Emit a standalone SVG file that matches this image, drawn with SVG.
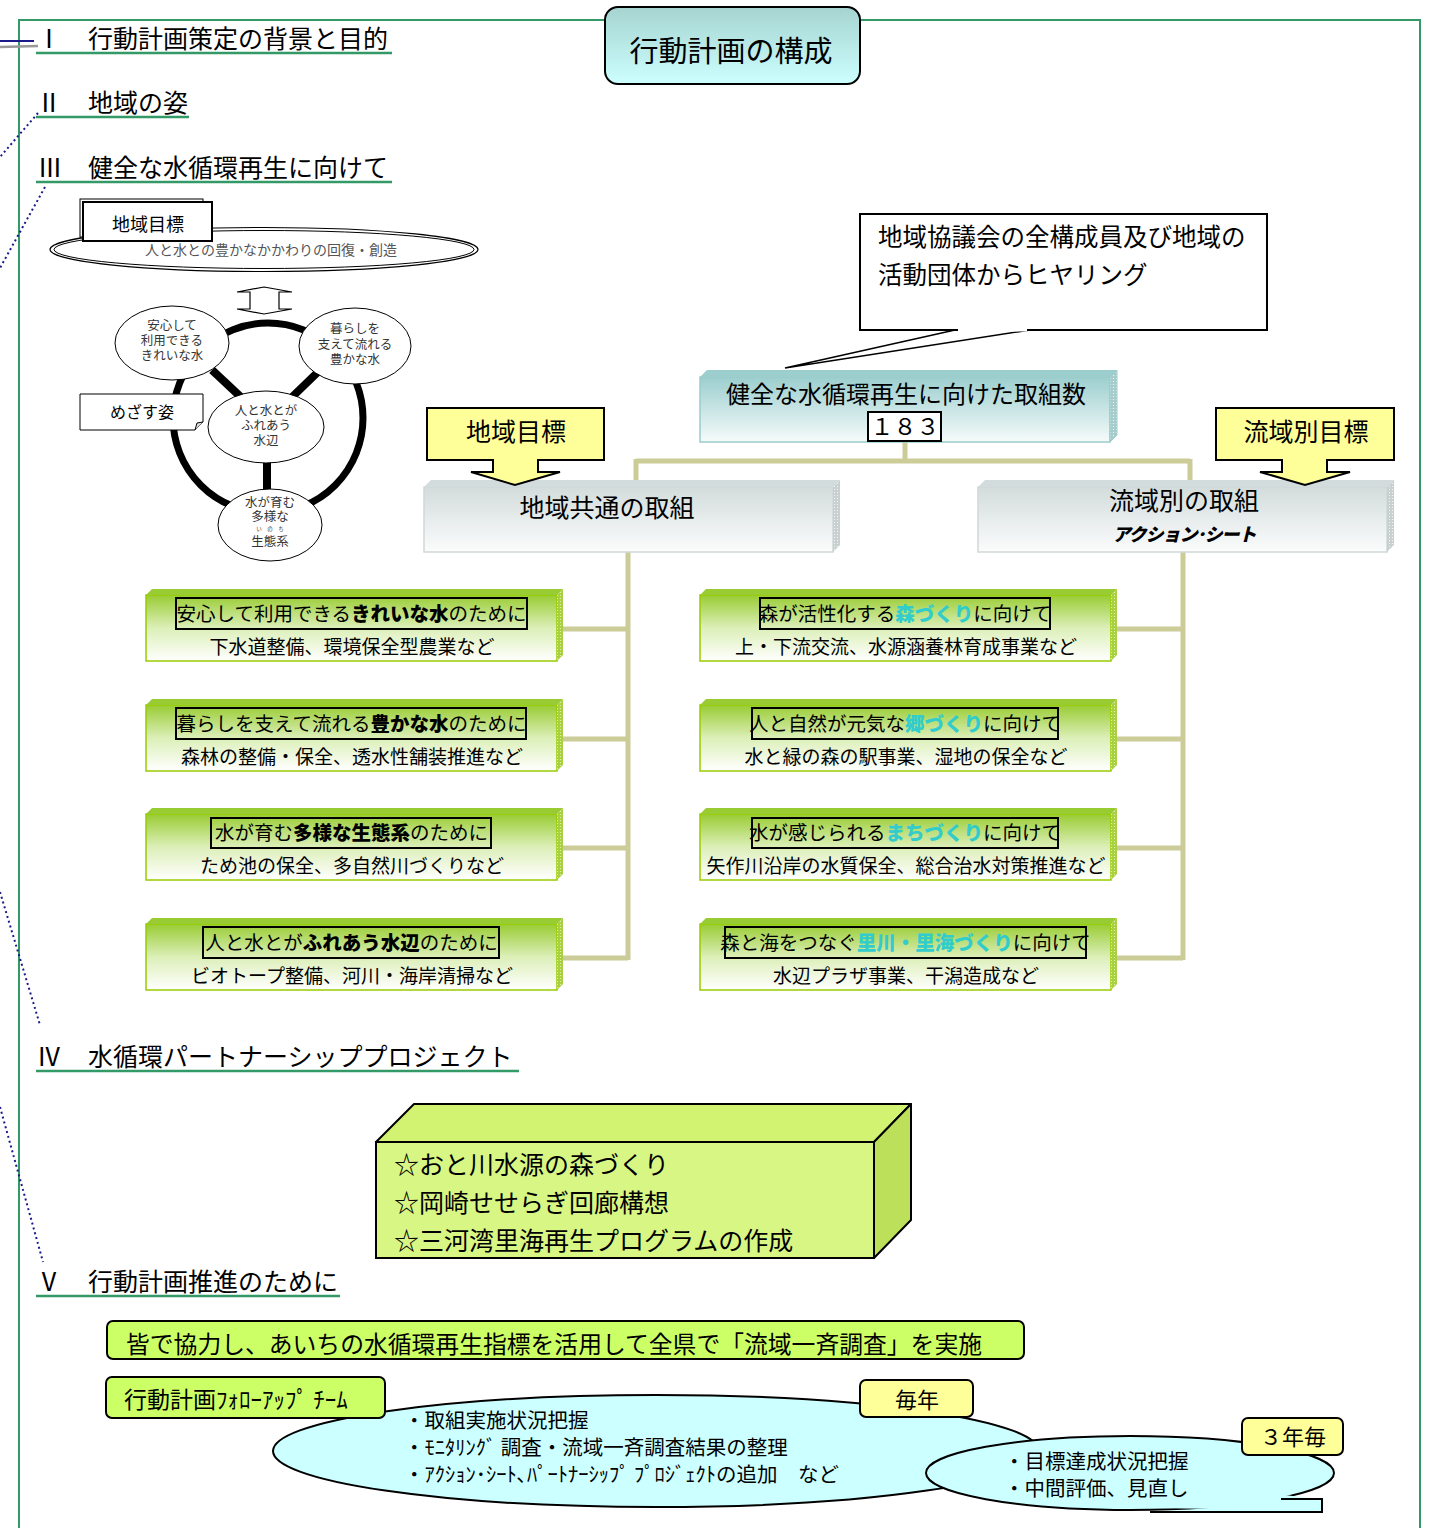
<svg xmlns="http://www.w3.org/2000/svg" width="1431" height="1528" viewBox="0 0 1431 1528">
<style>
text{font-family:"Noto Sans CJK JP","Noto Sans CJK SC",sans-serif;fill:#000}
.h{font-size:25px}
.ul{stroke:#339966;stroke-width:2.5}
.dot{stroke:#1a1a8c;stroke-width:2;stroke-dasharray:2 3;fill:none}
.conn{stroke:#cccc99;stroke-width:5;fill:none}
.el{font-size:12.5px;fill:#333;text-anchor:middle}
.gt{font-size:19.5px;text-anchor:middle}
.gs{font-size:19px;text-anchor:middle}
.b{font-weight:900}
.cy{font-weight:900;fill:#33cccc}
.tr{fill:none;stroke:#000;stroke-width:2}
.yb{fill:#ffff99;stroke:#000;stroke-width:2}
.lg{fill:#ccff66;stroke:#000;stroke-width:2}
</style>
<defs>
<linearGradient id="gGreen" x1="0" y1="0" x2="0" y2="1"><stop offset="0" stop-color="#99cc33"/><stop offset="0.5" stop-color="#dcefb8"/><stop offset="1" stop-color="#ffffff"/></linearGradient>
<linearGradient id="gGrey" x1="0" y1="0" x2="0" y2="1"><stop offset="0" stop-color="#d3dcdc"/><stop offset="1" stop-color="#fbfcfc"/></linearGradient>
<linearGradient id="gTeal" x1="0" y1="0" x2="0" y2="1"><stop offset="0" stop-color="#9ccece"/><stop offset="1" stop-color="#f6fbfb"/></linearGradient>
<linearGradient id="gTitle" x1="0" y1="0" x2="0" y2="1"><stop offset="0" stop-color="#a6d4d0"/><stop offset="1" stop-color="#ccffff"/></linearGradient>
<pattern id="pGreen" width="3" height="3" patternUnits="userSpaceOnUse"><rect width="3" height="3" fill="#a8d040"/><rect width="1" height="1" fill="#e0f0b0"/></pattern>
<pattern id="pGrey" width="3" height="3" patternUnits="userSpaceOnUse"><rect width="3" height="3" fill="#c8d0d0"/><rect width="1" height="1" fill="#f4f4f4"/></pattern>
<pattern id="pTeal" width="3" height="3" patternUnits="userSpaceOnUse"><rect width="3" height="3" fill="#a8cccc"/><rect width="1" height="1" fill="#eef8f8"/></pattern>
</defs>

<!-- frame -->
<path d="M605,20 H19 V1528 M860,20 H1420 V1528" stroke="#339966" stroke-width="2" fill="none"/>

<!-- left side lines -->
<g id="side-lines">
<line x1="0" y1="41" x2="34" y2="41" stroke="#1a1a8c" stroke-width="2"/>
<line x1="0" y1="47" x2="38" y2="46" stroke="#999" stroke-width="2.5"/>
<line class="dot" x1="38" y1="113" x2="0" y2="157"/>
<line class="dot" x1="45" y1="187" x2="0" y2="268"/>
<line class="dot" x1="0" y1="892" x2="40" y2="1025"/>
<line class="dot" x1="0" y1="1107" x2="43" y2="1262"/>
</g>

<!-- title -->
<g id="title">
<rect x="605" y="7" width="255" height="77" rx="13" fill="url(#gTitle)" stroke="#000" stroke-width="2"/>
<text x="731" y="62" font-size="29" text-anchor="middle">行動計画の構成</text>
</g>

<!-- headings -->
<g id="sec1"><text class="h" x="49" y="48" text-anchor="middle">Ⅰ</text><text class="h" x="88" y="48">行動計画策定の背景と目的</text><line class="ul" x1="36" y1="53" x2="392" y2="53"/></g>
<g id="sec2"><text class="h" x="49" y="112" text-anchor="middle">Ⅱ</text><text class="h" x="88" y="112">地域の姿</text><line class="ul" x1="36" y1="117" x2="189" y2="117"/></g>
<g id="sec3"><text class="h" x="50" y="177" text-anchor="middle">Ⅲ</text><text class="h" x="88" y="177">健全な水循環再生に向けて</text><line class="ul" x1="36" y1="182" x2="392" y2="182"/></g>
<g id="sec4"><text class="h" x="49" y="1066" text-anchor="middle">Ⅳ</text><text class="h" x="88" y="1066">水循環パートナーシッププロジェクト</text><line class="ul" x1="36" y1="1071" x2="519" y2="1071"/></g>
<g id="sec5"><text class="h" x="49" y="1291" text-anchor="middle">Ⅴ</text><text class="h" x="88" y="1291">行動計画推進のために</text><line class="ul" x1="36" y1="1296" x2="340" y2="1296"/></g>

<!-- left figure -->
<g id="goal-ellipse">
<ellipse cx="264" cy="249.5" rx="214" ry="22" fill="#fff" stroke="#000" stroke-width="1.2"/>
<ellipse cx="264" cy="249.5" rx="210" ry="19" fill="none" stroke="#000" stroke-width="1"/>
<text x="271" y="255" font-size="14" text-anchor="middle" style="fill:#555">人と水との豊かなかかわりの回復・創造</text>
</g>
<g id="goal-label">
<rect x="80" y="199" width="123" height="38" fill="#fff" stroke="#000" stroke-width="1"/>
<rect x="83" y="202" width="129" height="39" fill="#fff" stroke="#000" stroke-width="2"/>
<text x="148" y="231" font-size="18" text-anchor="middle">地域目標</text>
</g>
<g id="updown-arrow">
<path d="M264,287 L292,292 L279,292 L279,309 L292,309 L264,314 L237,309 L250,309 L250,292 L237,292 Z" fill="#fff" stroke="#000" stroke-width="1.2"/>
</g>
<g id="ring">
<circle cx="268" cy="418" r="95" fill="none" stroke="#000" stroke-width="7"/>
<line x1="212" y1="370" x2="244" y2="400" stroke="#000" stroke-width="8"/>
<line x1="320" y1="370" x2="289" y2="400" stroke="#000" stroke-width="8"/>
<line x1="267" y1="460" x2="267" y2="494" stroke="#000" stroke-width="8"/>
</g>
<g id="e-kirei"><ellipse cx="172" cy="343" rx="57" ry="37" fill="#fff" stroke="#000" stroke-width="1"/>
<text class="el" x="172" y="330">安心して<tspan x="172" dy="15">利用できる</tspan><tspan x="172" dy="15">きれいな水</tspan></text></g>
<g id="e-yutaka"><ellipse cx="355" cy="346" rx="56" ry="38" fill="#fff" stroke="#000" stroke-width="1"/>
<text class="el" x="355" y="333">暮らしを<tspan x="355" dy="16">支えて流れる</tspan><tspan x="355" dy="15">豊かな水</tspan></text></g>
<g id="e-mizube"><ellipse cx="266" cy="427" rx="58" ry="36" fill="#fff" stroke="#000" stroke-width="1"/>
<text class="el" x="266" y="415">人と水とが<tspan x="266" dy="15">ふれあう</tspan><tspan x="266" dy="15">水辺</tspan></text></g>
<g id="e-seitai"><ellipse cx="270" cy="525" rx="52" ry="36" fill="#fff" stroke="#000" stroke-width="1"/>
<text class="el" x="270" y="507">水が育む<tspan x="270" dy="14">多様な</tspan><tspan x="270" dy="10" style="font-size:5.5px">い　の　ち</tspan><tspan x="270" dy="15">生態系</tspan></text></g>
<g id="mezasu">
<path d="M80,394 H203 V422 L195,430 H80 Z" fill="#fff" stroke="#000" stroke-width="1"/>
<path d="M195,430 L197,423 L203,422" fill="#ddd" stroke="#000" stroke-width="1"/>
<text x="142" y="418" font-size="16" text-anchor="middle">めざす姿</text>
</g>

<!-- connectors -->
<g id="connectors">
<path class="conn" d="M905,442 V461 M636,461 H1190 M636,459 V480 M1190,459 V480"/>
<path class="conn" d="M628,552 V960 M563,629 H628 M563,739 H628 M563,848 H628 M563,958 H628"/>
<path class="conn" d="M1183,552 V960 M1117,629 H1183 M1117,739 H1183 M1117,848 H1183 M1117,958 H1183"/>
<path d="M955,330 L785,368 L1030,330" fill="#fff" stroke="#000" stroke-width="1.5"/>
</g>

<!-- callout -->
<g id="hearing">
<rect x="860" y="214" width="407" height="116" fill="#fff" stroke="#000" stroke-width="2"/>
<line x1="958" y1="330" x2="1027" y2="330" stroke="#fff" stroke-width="3"/>
<text x="878" y="246" font-size="24.5">地域協議会の全構成員及び地域の</text>
<text x="878" y="284" font-size="24.5">活動団体からヒヤリング</text>
</g>

<!-- total count box -->
<g id="total">
<rect x="700" y="377" width="410" height="65" fill="url(#gTeal)" stroke="#99cccc" stroke-width="1.5"/>
<polygon points="700,377 707,370 1117,370 1110,377" fill="#9ccece"/>
<polygon points="1110,377 1117,370 1117,435 1110,442" fill="url(#pTeal)" stroke="#99cccc" stroke-width="1"/>
<text x="906" y="403" font-size="24" text-anchor="middle">健全な水循環再生に向けた取組数</text>
<rect x="868" y="412" width="73" height="29" fill="#fff" stroke="#000" stroke-width="2"/>
<text x="905" y="435" font-size="23" text-anchor="middle">１８３</text>
</g>

<!-- common & basin boxes -->
<g id="common">
<rect x="424" y="487" width="409" height="65" fill="url(#gGrey)" stroke="#d0d8d8" stroke-width="1.5"/>
<polygon points="424,487 431,480 840,480 833,487" fill="#d3dcdc"/>
<polygon points="833,487 840,480 840,545 833,552" fill="url(#pGrey)"/>
<text x="607" y="517" font-size="25" text-anchor="middle">地域共通の取組</text>
</g>
<g id="basin">
<rect x="978" y="487" width="409" height="65" fill="url(#gGrey)" stroke="#d0d8d8" stroke-width="1.5"/>
<polygon points="978,487 985,480 1394,480 1387,487" fill="#d3dcdc"/>
<polygon points="1387,487 1394,480 1394,545 1387,552" fill="url(#pGrey)"/>
<text x="1184" y="510" font-size="25" text-anchor="middle">流域別の取組</text>
<text x="1184" y="541" font-size="18" font-weight="900" font-style="italic" text-anchor="middle" letter-spacing="-1">アクション･シート</text>
</g>

<!-- yellow arrow callouts -->
<g id="goal-common">
<path class="yb" d="M427,408 H604 V460 H538 V472 H560 L515,485 L471,472 H493 V460 H427 Z"/>
<text x="516" y="441" font-size="25" text-anchor="middle">地域目標</text>
</g>
<g id="goal-basin">
<path class="yb" d="M1216,408 H1394 V460 H1327 V472 H1350 L1305,485 L1260,472 H1282 V460 H1216 Z"/>
<text x="1306" y="441" font-size="25" text-anchor="middle">流域別目標</text>
</g>

<!-- green boxes left -->
<g id="l1" transform="translate(146,589)">
<rect x="0" y="6" width="411" height="66" fill="url(#gGreen)" stroke="#99cc00" stroke-width="1.5"/>
<polygon points="0,6 6,0 417,0 411,6" fill="#99cc33"/><polygon points="411,6 417,0 417,66 411,72" fill="url(#pGreen)"/>
<rect class="tr" x="30" y="9" width="351" height="31"/>
<text class="gt" x="205.5" y="32">安心して利用できる<tspan class="b">きれいな水</tspan>のために</text>
<text class="gs" x="206" y="65">下水道整備、環境保全型農業など</text>
</g>
<g id="l2" transform="translate(146,699)">
<rect x="0" y="6" width="411" height="66" fill="url(#gGreen)" stroke="#99cc00" stroke-width="1.5"/>
<polygon points="0,6 6,0 417,0 411,6" fill="#99cc33"/><polygon points="411,6 417,0 417,66 411,72" fill="url(#pGreen)"/>
<rect class="tr" x="30" y="9" width="350" height="31"/>
<text class="gt" x="205.5" y="32">暮らしを支えて流れる<tspan class="b">豊かな水</tspan>のために</text>
<text class="gs" x="206" y="65">森林の整備・保全、透水性舗装推進など</text>
</g>
<g id="l3" transform="translate(146,808)">
<rect x="0" y="6" width="411" height="66" fill="url(#gGreen)" stroke="#99cc00" stroke-width="1.5"/>
<polygon points="0,6 6,0 417,0 411,6" fill="#99cc33"/><polygon points="411,6 417,0 417,66 411,72" fill="url(#pGreen)"/>
<rect class="tr" x="65" y="10" width="280" height="30"/>
<text class="gt" x="205.5" y="32" font-size="19.8">水が育む<tspan class="b">多様な生態系</tspan>のために</text>
<text class="gs" x="206" y="65">ため池の保全、多自然川づくりなど</text>
</g>
<g id="l4" transform="translate(146,918)">
<rect x="0" y="6" width="411" height="66" fill="url(#gGreen)" stroke="#99cc00" stroke-width="1.5"/>
<polygon points="0,6 6,0 417,0 411,6" fill="#99cc33"/><polygon points="411,6 417,0 417,66 411,72" fill="url(#pGreen)"/>
<rect class="tr" x="57" y="9" width="296" height="31"/>
<text class="gt" x="205.5" y="32">人と水とが<tspan class="b">ふれあう水辺</tspan>のために</text>
<text class="gs" x="206" y="65">ビオトープ整備、河川・海岸清掃など</text>
</g>

<!-- green boxes right -->
<g id="r1" transform="translate(700,589)">
<rect x="0" y="6" width="411" height="66" fill="url(#gGreen)" stroke="#99cc00" stroke-width="1.5"/>
<polygon points="0,6 6,0 417,0 411,6" fill="#99cc33"/><polygon points="411,6 417,0 417,66 411,72" fill="url(#pGreen)"/>
<rect class="tr" x="60" y="9" width="290" height="31"/>
<text class="gt" x="205" y="32" font-size="18.6">森が活性化する<tspan class="cy">森づくり</tspan>に向けて</text>
<text class="gs" x="206" y="65">上・下流交流、水源涵養林育成事業など</text>
</g>
<g id="r2" transform="translate(700,699)">
<rect x="0" y="6" width="411" height="66" fill="url(#gGreen)" stroke="#99cc00" stroke-width="1.5"/>
<polygon points="0,6 6,0 417,0 411,6" fill="#99cc33"/><polygon points="411,6 417,0 417,66 411,72" fill="url(#pGreen)"/>
<rect class="tr" x="52" y="9" width="306" height="31"/>
<text class="gt" x="205" y="32" font-size="18.6">人と自然が元気な<tspan class="cy">郷づくり</tspan>に向けて</text>
<text class="gs" x="206" y="65">水と緑の森の駅事業、湿地の保全など</text>
</g>
<g id="r3" transform="translate(700,808)">
<rect x="0" y="6" width="411" height="66" fill="url(#gGreen)" stroke="#99cc00" stroke-width="1.5"/>
<polygon points="0,6 6,0 417,0 411,6" fill="#99cc33"/><polygon points="411,6 417,0 417,66 411,72" fill="url(#pGreen)"/>
<rect class="tr" x="52" y="10" width="306" height="30"/>
<text class="gt" x="205" y="32" font-size="18.6">水が感じられる<tspan class="cy">まちづくり</tspan>に向けて</text>
<text class="gs" x="206" y="65">矢作川沿岸の水質保全、総合治水対策推進など</text>
</g>
<g id="r4" transform="translate(700,918)">
<rect x="0" y="6" width="411" height="66" fill="url(#gGreen)" stroke="#99cc00" stroke-width="1.5"/>
<polygon points="0,6 6,0 417,0 411,6" fill="#99cc33"/><polygon points="411,6 417,0 417,66 411,72" fill="url(#pGreen)"/>
<rect class="tr" x="25" y="9" width="361" height="31"/>
<text class="gt" x="205.5" y="32" font-size="18.6">森と海をつなぐ<tspan class="cy">里川・里海づくり</tspan>に向けて</text>
<text class="gs" x="206" y="65">水辺プラザ事業、干潟造成など</text>
</g>

<!-- partnership projects 3D box -->
<g id="projects">
<polygon points="376,1142 414,1104 911,1104 874,1142" fill="#d2f272" stroke="#000" stroke-width="2" stroke-linejoin="round"/>
<polygon points="874,1142 911,1104 911,1220 874,1258" fill="#bde05a" stroke="#000" stroke-width="2" stroke-linejoin="round"/>
<rect x="376" y="1142" width="498" height="116" fill="#d8f684" stroke="#000" stroke-width="2"/>
<text x="394" y="1174" font-size="25">☆おと川水源の森づくり</text>
<text x="394" y="1212" font-size="25">☆岡崎せせらぎ回廊構想</text>
<text x="394" y="1250" font-size="25">☆三河湾里海再生プログラムの作成</text>
</g>

<!-- bottom section -->
<g id="survey">
<rect class="lg" x="107" y="1321" width="917" height="38" rx="6"/>
<text x="126" y="1353" font-size="23.8">皆で協力し、あいちの水循環再生指標を活用して全県で「流域一斉調査」を実施</text>
</g>
<g id="annual-ellipse">
<ellipse cx="656" cy="1451" rx="383" ry="56" fill="#ccffff" stroke="#000" stroke-width="2"/>
<text x="404" y="1428" font-size="20.5">・取組実施状況把握</text>
<text x="404" y="1455" font-size="20.5">・ﾓﾆﾀﾘﾝｸﾞ 調査・流域一斉調査結果の整理</text>
<text x="404" y="1482" font-size="20.5">・ｱｸｼｮﾝ･ｼｰﾄ､ﾊﾟｰﾄﾅｰｼｯﾌﾟ ﾌﾟﾛｼﾞｪｸﾄの追加　など</text>
</g>
<g id="followup">
<rect class="lg" x="106" y="1377" width="279" height="41" rx="6"/>
<text x="124" y="1408" font-size="23">行動計画ﾌｫﾛｰｱｯﾌﾟ ﾁｰﾑ</text>
</g>
<g id="annual">
<rect class="yb" x="860" y="1380" width="113" height="37" rx="6"/>
<text x="917" y="1408" font-size="22" text-anchor="middle">毎年</text>
</g>
<g id="triennial-ellipse">
<polygon points="1130,1510 1285,1497 1322,1499 1322,1512" fill="#ccffff"/>
<ellipse cx="1130" cy="1473" rx="204" ry="37" fill="#ccffff" stroke="#000" stroke-width="2"/>
<polygon points="1140,1508 1285,1495 1322,1500 1320,1510" fill="#ccffff"/>
<path d="M1281,1499 H1322 V1512 H1150" fill="none" stroke="#000" stroke-width="2"/>
<text x="1004" y="1469" font-size="20.5">・目標達成状況把握</text>
<text x="1004" y="1496" font-size="20.5">・中間評価、見直し</text>
</g>
<g id="triennial">
<rect class="yb" x="1242" y="1418" width="101" height="37" rx="6"/>
<text x="1293" y="1445" font-size="22" text-anchor="middle">３年毎</text>
</g>
</svg>
